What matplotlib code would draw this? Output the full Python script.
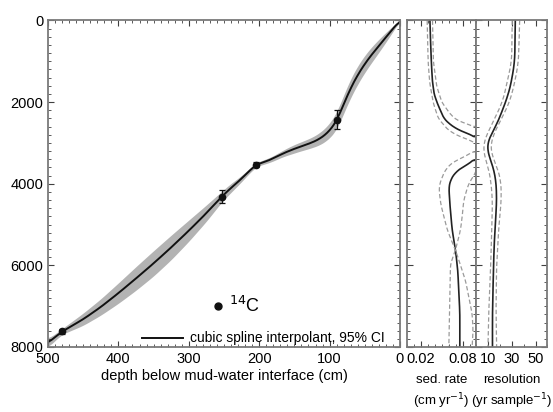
import numpy as np
import matplotlib
matplotlib.use("Agg")
import matplotlib.pyplot as plt
from matplotlib.ticker import MultipleLocator, FixedLocator

plt.rcParams['font.family'] = ['Liberation Sans', 'DejaVu Sans']

# ---- data: 14C dates ----
c14_depth = [480, 253, 204, 89]
c14_age = [7620, 4313, 3530, 2430]
c14_err = [70, 150, 60, 240]

# ---- cubic spline interpolant ----
curve_depth = [0, 10, 20, 30, 40, 50, 60, 70, 80, 89, 97, 104, 114, 123, 132, 142, 154, 165.8, 175, 184.7, 194, 204, 215, 227, 240, 253, 275, 300, 325, 350, 375, 400, 425, 450, 465, 480, 490, 500]
curve_age = [0, 200, 410, 620, 830, 1060, 1330, 1650, 2050, 2430, 2640, 2770, 2900, 2975, 3035, 3092, 3170, 3254, 3335, 3418, 3470, 3530, 3700, 3908, 4100, 4313, 4720, 5150, 5560, 5950, 6320, 6680, 7020, 7320, 7470, 7620, 7760, 7900]
band_half = [0, 70, 120, 160, 190, 210, 225, 230, 225, 210, 190, 170, 150, 130, 120, 110, 100, 80, 70, 60, 55, 50, 60, 80, 110, 130, 200, 260, 300, 310, 290, 250, 200, 150, 110, 70, 80, 110]

# ---- sed. rate (cm/yr), solid and 95% CI ----
sed_age_a = [0, 560, 1000, 1458, 1800, 2028, 2200, 2396, 2520, 2641, 2720, 2781, 2850]
sed_val_a = [0.033, 0.034, 0.035, 0.0364, 0.039, 0.0436, 0.048, 0.053, 0.060, 0.0698, 0.079, 0.0888, 0.1]
sed_age_b = [3418, 3541, 3705, 3908, 4072, 4479, 5133, 5623, 6113, 6767, 7174, 8000]
sed_val_b = [0.1, 0.084, 0.0698, 0.0626, 0.0602, 0.0616, 0.065, 0.0698, 0.073, 0.075, 0.076, 0.076]

sedR_age_a = [0, 1000, 1600, 2000, 2300, 2450, 2530, 2600]
sedR_val_a = [0.0367, 0.038, 0.0426, 0.050, 0.0626, 0.072, 0.085, 0.1]
sedL_age_a = [0, 1000, 1500, 2000, 2400, 2700, 2880, 2980]
sedL_val_a = [0.029, 0.0304, 0.0325, 0.0375, 0.045, 0.060, 0.080, 0.1]

sedA_age_b = [3214, 3418, 3600, 3827, 4072, 4479, 5133, 5623, 6358, 7174, 7583, 8000]
sedA_val_b = [0.1, 0.0698, 0.057, 0.0507, 0.0458, 0.0483, 0.0579, 0.0698, 0.084, 0.0937, 0.0951, 0.0937]
sedB_age_b = [3704, 3989, 4398, 4807, 5133, 5623, 5949, 6767, 8000]
sedB_val_b = [0.1, 0.0888, 0.0817, 0.0794, 0.077, 0.0698, 0.0626, 0.0616, 0.0602]

# ---- resolution (yr/sample) ----
res_age = [0, 1000, 1500, 1800, 2200, 2600, 2886, 3050, 3214, 3418, 3663, 3908, 4200, 4600, 5000, 5600, 6500, 7200, 8000]
res_val = [32.8, 32.3, 29.5, 27, 22, 16.3, 10.5, 8.6, 9.2, 12, 14.8, 16.3, 17, 16.8, 15.8, 14.8, 14, 13.5, 13.5]
resL_age = [0, 1000, 1500, 2000, 2300, 2600, 2900, 3100, 3300, 3600, 3900, 4400, 5000, 6000, 7000, 8000]
resL_val = [30.2, 29.7, 26, 22, 17, 12, 7, 5.4, 6.5, 10, 12, 13.5, 13, 12, 10.5, 9.7]
resR_age = [0, 1000, 1500, 2000, 2300, 2600, 2900, 3100, 3300, 3600, 3900, 4400, 5000, 6000, 7000, 8000]
resR_val = [36.5, 35.5, 32.5, 28, 23, 17.5, 13, 11.5, 13, 17.5, 20.6, 21, 19, 17, 16.5, 17]

W, H = 553, 412
fig = plt.figure(figsize=(W / 100, H / 100), dpi=100)

def pos(l, r, t, b):
    return [l / W, 1 - b / H, (r - l) / W, (b - t) / H]

frame_col = '#7a7a7a'
tick_col = '#404040'

ax = fig.add_axes(pos(48, 400, 20.5, 347))
axs = fig.add_axes(pos(407, 476.5, 20.5, 347))
axr = fig.add_axes(pos(476.5, 547.5, 20.5, 347))

def smooth(xs, ys, n=400):
    # dense linear + small moving average, only for drawing
    xs = np.asarray(xs, float); ys = np.asarray(ys, float)
    t = np.linspace(xs[0], xs[-1], n)
    y = np.interp(t, xs, ys)
    k = 9
    ypad = np.concatenate([np.full(k, y[0]), y, np.full(k, y[-1])])
    ker = np.ones(2 * k + 1) / (2 * k + 1)
    ys2 = np.convolve(ypad, ker, mode='same')[k:-k]
    ys2[0] = y[0]; ys2[-1] = y[-1]
    return t, ys2

cd, ca = smooth(curve_depth, curve_age, 600)
_, bh = smooth(curve_depth, band_half, 600)
ax.fill_between(cd, ca - bh, ca + bh, color='#b3b3b3', lw=0)
ax.plot(cd, ca, color='#111111', lw=1.4)
ax.errorbar(c14_depth, c14_age, yerr=c14_err, fmt='o', color='#111111', ms=4.5,
            capsize=2.5, elinewidth=0.9, capthick=0.9, zorder=5)

ax.set_xlim(500, 0)
ax.set_ylim(8000, 0)
ax.xaxis.set_major_locator(MultipleLocator(100))
ax.xaxis.set_minor_locator(MultipleLocator(10))
ax.yaxis.set_major_locator(MultipleLocator(2000))
ax.yaxis.set_minor_locator(MultipleLocator(200))
ax.set_xlabel('depth below mud-water interface (cm)', fontsize=10.5, labelpad=2)

# legend (manual)
ax.plot([258], [6990], 'o', color='#111111', ms=5)
ax.text(243, 6990, '$^{14}$C', fontsize=13, va='center', ha='left')
ax.plot([367, 308], [7780, 7780], color='#111111', lw=1.4)
ax.text(299, 7780, 'cubic spline interpolant, 95% CI', fontsize=10, va='center', ha='left')

for a in (ax, axs, axr):
    a.tick_params(which='both', direction='in', top=True, right=True, colors=tick_col,
                  labelcolor='black', labelsize=10.5, pad=3.5)
    a.tick_params(which='major', length=4, width=0.8)
    a.tick_params(which='minor', length=2, width=0.6)
    for s in a.spines.values():
        s.set_color(frame_col)
        s.set_linewidth(1.3)

def seg(a, ages, vals, **kw):
    t, v = smooth(ages, vals, 300)
    a.plot(v, t, **kw)

solid = dict(color='#222222', lw=1.2)
dash = dict(color='#9a9a9a', lw=0.9, ls=(0, (3.5, 2)))
seg(axs, sed_age_a, sed_val_a, **solid)
seg(axs, sed_age_b, sed_val_b, **solid)
seg(axs, sedR_age_a, sedR_val_a, **dash)
seg(axs, sedL_age_a, sedL_val_a, **dash)
seg(axs, sedA_age_b, sedA_val_b, **dash)
seg(axs, sedB_age_b, sedB_val_b, **dash)
axs.set_xlim(0, 0.1)
axs.set_ylim(8000, 0)
axs.xaxis.set_major_locator(FixedLocator([0.02, 0.08]))
axs.xaxis.set_minor_locator(MultipleLocator(0.01))
axs.set_xticklabels(['0.02', '0.08'])
axs.yaxis.set_major_locator(MultipleLocator(2000))
axs.yaxis.set_minor_locator(MultipleLocator(200))
axs.set_yticklabels([])
axs.set_xlabel('sed. rate\n(cm yr$^{-1}$)', fontsize=9.5, labelpad=6, linespacing=1.35)

seg(axr, res_age, res_val, **solid)
seg(axr, resL_age, resL_val, **dash)
seg(axr, resR_age, resR_val, **dash)
axr.set_xlim(0, 60)
axr.set_ylim(8000, 0)
axr.xaxis.set_major_locator(FixedLocator([10, 30, 50]))
axr.xaxis.set_minor_locator(MultipleLocator(10))
axr.yaxis.set_major_locator(MultipleLocator(2000))
axr.yaxis.set_minor_locator(MultipleLocator(200))
axr.set_yticklabels([])
axr.set_xlabel('resolution\n(yr sample$^{-1}$)', fontsize=9.5, labelpad=6, linespacing=1.35)

fig.savefig('out.png', dpi=100)
